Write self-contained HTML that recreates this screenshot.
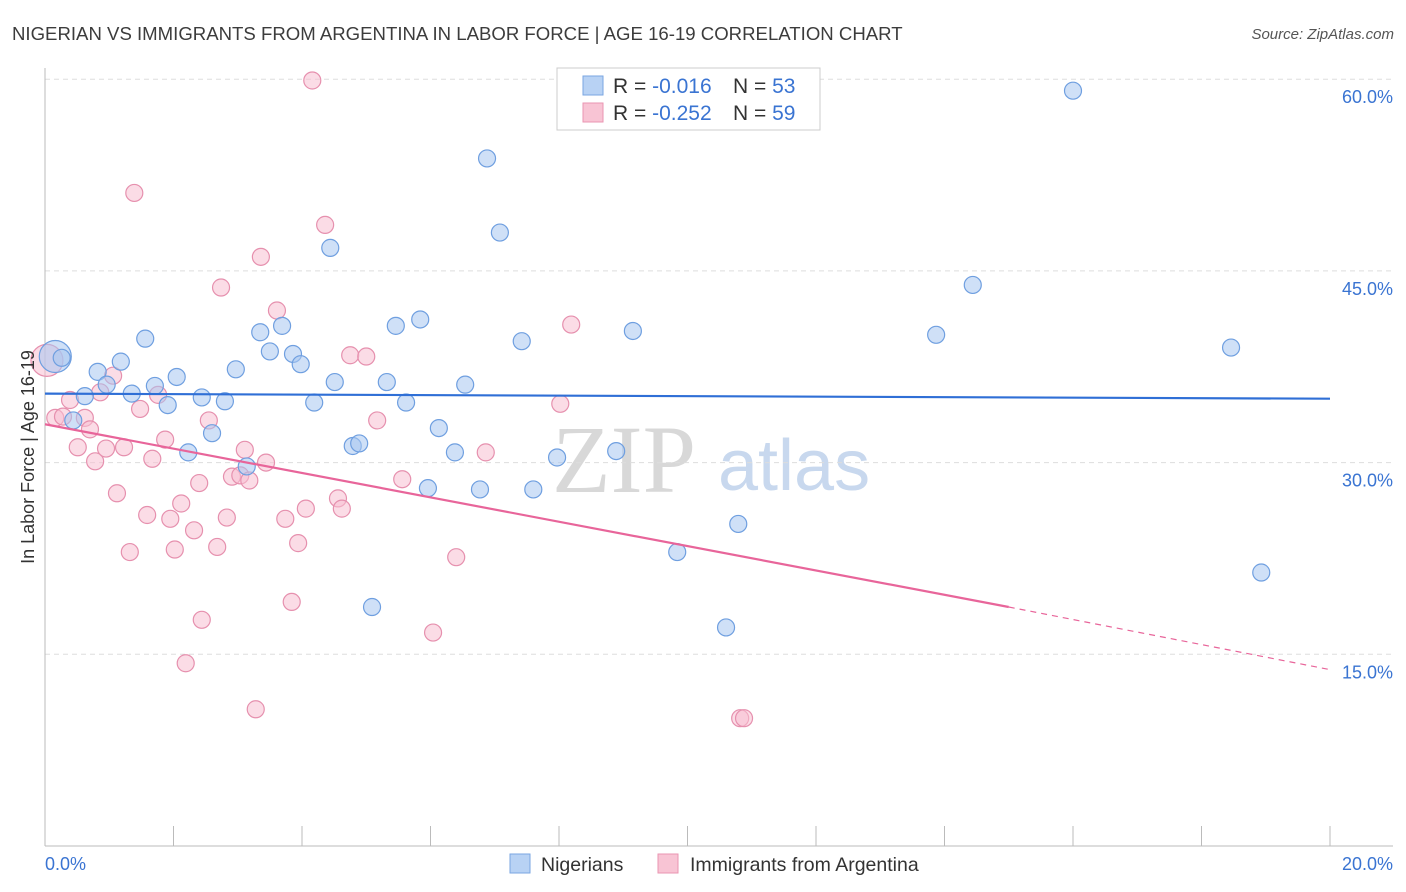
<!DOCTYPE html>
<html><head><meta charset="utf-8">
<style>
body{margin:0;background:#fff;font-family:"Liberation Sans",sans-serif;}
svg{display:block}
</style></head>
<body>
<svg id="chart" width="1406" height="892">
<text x="12" y="40" font-size="18.6" fill="#3c3c3c">NIGERIAN VS IMMIGRANTS FROM ARGENTINA IN LABOR FORCE | AGE 16-19 CORRELATION CHART</text>
<text x="1394" y="39" font-size="15" fill="#555" font-style="italic" text-anchor="end">Source: ZipAtlas.com</text>
<g>
<text x="552" y="492" font-size="96" font-family="Liberation Serif,serif" fill="#d8d8d8">ZIP</text>
<text x="718" y="490" font-size="72" fill="#c8d8ee">atlas</text>
</g>
<g id="grid"></g>
<g id="axes"></g>
<g id="marks"></g>
<g>
<rect x="557" y="68" width="263" height="62" fill="#fff" stroke="#ccc"/>
<rect x="583" y="76" width="20" height="19" fill="#b8d2f4" stroke="#7aa6e2"/>
<rect x="583" y="103" width="20" height="19" fill="#f8c4d4" stroke="#ea95b2"/>
<text x="613" y="93" font-size="21" fill="#333">R = <tspan fill="#3a74d2">-0.016</tspan></text>
<text x="733" y="93" font-size="21" fill="#333">N = <tspan fill="#3a74d2">53</tspan></text>
<text x="613" y="120" font-size="21" fill="#333">R = <tspan fill="#3a74d2">-0.252</tspan></text>
<text x="733" y="120" font-size="21" fill="#333">N = <tspan fill="#3a74d2">59</tspan></text>
</g>
<g>
<rect x="510" y="854" width="20" height="19" fill="#b8d2f4" stroke="#7aa6e2"/>
<text x="541" y="871" font-size="19.5" fill="#333">Nigerians</text>
<rect x="658" y="854" width="20" height="19" fill="#f8c4d4" stroke="#ea95b2"/>
<text x="690" y="871" font-size="19.5" fill="#333">Immigrants from Argentina</text>
</g>
<text transform="translate(34,457) rotate(-90)" font-size="18" fill="#333" text-anchor="middle">In Labor Force | Age 16-19</text>
</svg>
<script>
const blueX=[0.16,0.26,0.82,0.62,0.44,0.96,1.18,1.35,1.56,1.71,1.91,2.05,2.23,2.44,2.60,2.80,2.97,3.14,3.35,3.50,3.69,3.86,3.98,4.19,4.44,4.51,4.79,4.89,5.09,5.32,5.46,5.62,5.84,5.96,6.13,6.38,6.54,6.77,6.88,7.08,7.42,7.60,7.97,8.89,9.15,9.84,10.60,10.79,13.87,14.44,16.00,18.46,18.93];
const blueY=[38.3,38.2,37.1,35.2,33.3,36.1,37.9,35.4,39.7,36.0,34.5,36.7,30.8,35.1,32.3,34.8,37.3,29.7,40.2,38.7,40.7,38.5,37.7,34.7,46.8,36.3,31.3,31.5,18.7,36.3,40.7,34.7,41.2,28.0,32.7,30.8,36.1,27.9,53.8,48.0,39.5,27.9,30.4,30.9,40.3,23.0,17.1,25.2,40.0,43.9,59.1,39.0,21.4];
const pinkX=[0.03,0.16,0.28,0.39,0.51,0.62,0.70,0.78,0.86,0.95,1.06,1.12,1.23,1.32,1.39,1.48,1.59,1.67,1.76,1.87,1.95,2.02,2.12,2.19,2.32,2.40,2.44,2.55,2.68,2.74,2.83,2.91,3.04,3.11,3.18,3.28,3.36,3.44,3.61,3.74,3.84,3.94,4.06,4.16,4.36,4.56,4.62,4.75,5.00,5.17,5.56,6.04,6.40,6.86,8.02,8.19,10.82,10.88];
const pinkY=[38.0,33.5,33.6,34.9,31.2,33.5,32.6,30.1,35.5,31.1,36.8,27.6,31.2,23.0,51.1,34.2,25.9,30.3,35.3,31.8,25.6,23.2,26.8,14.3,24.7,28.4,17.7,33.3,23.4,43.7,25.7,28.9,29.0,31.0,28.6,10.7,46.1,30.0,41.9,25.6,19.1,23.7,26.4,59.9,48.6,27.2,26.4,38.4,38.3,33.3,28.7,16.7,22.6,30.8,34.6,40.8,10.0,10.0];
const blueTrendX=[0,20], blueTrendY=[35.4,35.0];
const pinkTrendX=[0,15,20], pinkTrendY=[33.0,18.7,13.8];
const yTicks=[15,30,45,60];
const xTicks=[0,2,4,6,8,10,12,14,16,18,20];
const xLabels=["0.0%","20.0%"];
const NS="http://www.w3.org/2000/svg";
const sx=v=>45+v*64.25, sy=v=>846-v*12.78;
function mk(p,t,a){const e=document.createElementNS(NS,t);for(const k in a)e.setAttribute(k,a[k]);p.appendChild(e);return e;}
const grid=document.getElementById('grid'),axes=document.getElementById('axes'),marks=document.getElementById('marks');
yTicks.forEach(v=>{
 const l=mk(grid,'line',{x1:45,x2:1393,y1:sy(v),y2:sy(v),stroke:'#ddd','stroke-dasharray':'5,4'});
 
 
 const t=mk(grid,'text',{x:1393,y:sy(v)+24,'font-size':18,fill:'#3a74d2','text-anchor':'end'});
 t.textContent=v.toFixed(1)+'%';
 
 
});
let ax=mk(axes,'line',{x1:45,x2:45,y1:68,y2:846,stroke:'#bbb'});


ax=mk(axes,'line',{x1:45,x2:1393,y1:846,y2:846,stroke:'#bbb'});


xTicks.forEach(v=>{
 const l=mk(axes,'line',{x1:sx(v),x2:sx(v),y1:826,y2:846,stroke:'#bbb'});
 
 
});
let t=mk(axes,'text',{x:45,y:870,'font-size':18,fill:'#3a74d2'});t.textContent=xLabels[0];


t=mk(axes,'text',{x:1393,y:870,'font-size':18,fill:'#3a74d2','text-anchor':'end'});t.textContent=xLabels[1];


function pts(X,Y,fill,stroke,name){
 X.forEach((x,i)=>{
  const big=(i===0);
  const c=mk(marks,'circle',{cx:sx(x),cy:sy(Y[i]),r:big?16:8.5,fill:fill,'fill-opacity':0.55,stroke:stroke,'stroke-width':1.2});
  
  
 });
}
pts(pinkX,pinkY,'#f8c0d2','#e690ae','argentina');
pts(blueX,blueY,'#a8c6f0','#6f9fe0','nigerian');
let ln=mk(marks,'line',{x1:sx(blueTrendX[0]),y1:sy(blueTrendY[0]),x2:sx(blueTrendX[1]),y2:sy(blueTrendY[1]),stroke:'#2f6fd6','stroke-width':2.2});


ln=mk(marks,'line',{x1:sx(pinkTrendX[0]),y1:sy(pinkTrendY[0]),x2:sx(pinkTrendX[1]),y2:sy(pinkTrendY[1]),stroke:'#e8659a','stroke-width':2.2});


ln=mk(marks,'line',{x1:sx(pinkTrendX[1]),y1:sy(pinkTrendY[1]),x2:sx(pinkTrendX[2]),y2:sy(pinkTrendY[2]),stroke:'#e8659a','stroke-width':1.2,'stroke-dasharray':'6,5'});


</script>
</body></html>
